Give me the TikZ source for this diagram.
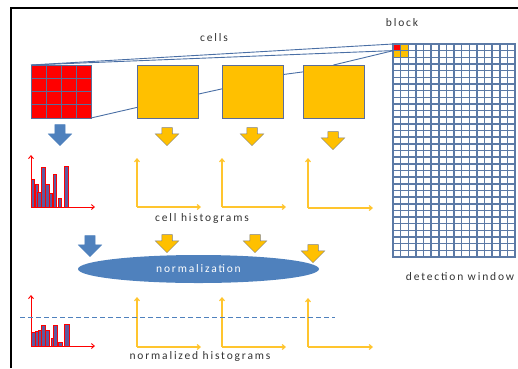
\documentclass[tikz,border=0pt]{standalone}
\usepackage{fontspec}
\setmainfont{Carlito}[LetterSpace=16]
\usetikzlibrary{shapes.arrows,shapes.geometric,arrows.meta,calc}

\definecolor{hogblue}{HTML}{4F81BD}
\definecolor{hogyellow}{HTML}{FFC000}
\definecolor{gridline}{HTML}{5A6D99}
\definecolor{linkline}{HTML}{4A6FA5}
\definecolor{winline}{HTML}{5C7AA6}
\definecolor{axisyellow}{HTML}{FFC52E}
\definecolor{textgray}{HTML}{333333}
\definecolor{barfill}{HTML}{5F5A9E}

\begin{document}
\begin{tikzpicture}[x=1pt, y=-1pt, every node/.style={inner sep=0pt, outer sep=0pt},
    txt/.style={text=textgray, font=\fontsize{11.5}{13}\selectfont},
    cellsq/.style={draw=gridline, line width=0.8pt, fill=hogyellow, minimum width=61, minimum height=53},
    downblue/.style={single arrow, fill=hogblue, draw=hogblue, rotate=-90, inner ysep=5pt, minimum height=21, single arrow head extend=6.5},
    downyellow/.style={single arrow, fill=hogyellow, draw=gray, line width=0.5pt, rotate=-90, inner ysep=5pt, minimum height=18, single arrow head extend=6.5},
    link/.style={draw=linkline, line width=0.9pt},
    raxis/.style={draw=red, line width=0.9pt, -{Straight Barb[length=3pt,width=5pt]}},
    yaxis/.style={draw=axisyellow, line width=1.2pt, -{Straight Barb[length=3pt,width=5pt]}},
    bar/.style={fill=barfill, draw=red, line width=0.8pt}]
    \useasboundingbox (0,0) rectangle (518,368);

    % frame
    \draw[line width=2pt] (11,368) -- (11,8) -- (518,8);

    % cells
    \node[draw=gridline, line width=0.8pt, fill=red, minimum width=60, minimum height=53] (cellgrid) at (61,91.5) {};
    \foreach \i in {1,2,3} {
        \draw[gridline, line width=0.8pt] (31+15*\i,65) -- (31+15*\i,118);
        \draw[gridline, line width=0.8pt] (31,65+13.25*\i) -- (91,65+13.25*\i);
    }
    \node[cellsq] (cellB) at (167.5,91.5) {};
    \node[cellsq] (cellC) at (252.5,91.5) {};
    \node[cellsq] (cellD) at (333.5,91.5) {};
    \node[txt] (cellslabel) at (214,38) {cells};

    % detection window
    \node[draw=winline, line width=1.6pt, fill=white, minimum width=122, minimum height=213] (window) at (454,150.5) {};
    \foreach \i in {1,...,15}
        \draw[winline, line width=1.5pt] (393+7.625*\i,44) -- (393+7.625*\i,257);
    \foreach \j in {1,...,31}
        \draw[winline, line width=1.5pt] (393,44+6.656*\j) -- (515,44+6.656*\j);
    \node[draw=winline, line width=0.8pt, fill=red, minimum width=7.6, minimum height=6.6] (blockA) at (396.8,47.3) {};
    \node[draw=winline, line width=0.8pt, fill=hogyellow, minimum width=7.6, minimum height=6.6] (blockB) at (404.4,47.3) {};
    \node[draw=winline, line width=0.8pt, fill=hogyellow, minimum width=7.6, minimum height=6.6] (blockC) at (396.8,54) {};
    \node[draw=winline, line width=0.8pt, fill=hogyellow, minimum width=7.6, minimum height=6.6] (blockD) at (404.4,54) {};
    \node[txt] (blocklabel) at (402,23) {block};
    \node[txt] (windowlabel) at (460,277) {detection window};

    % links cells -> block
    \draw[link] (cellgrid.north west) -- (blockA.north west);
    \draw[link] (cellgrid.north west) -- (blockA.south west);
    \draw[link] (cellgrid.south east) -- ($(cellB.south west)!0.2!(cellB.north west)$);
    \draw[link] ($(cellB.south east)!0.45!(cellB.north east)$) -- ($(cellC.south west)!0.55!(cellC.north west)$);
    \draw[link] ($(cellC.south east)!0.82!(cellC.north east)$) -- ($(cellD.south west)!0.87!(cellD.north west)$);
    \draw[link] (cellD.north) -- (blockC.north west);

    % arrows row 1
    \node[downblue] (dA) at (60,132.5) {};
    \node[downyellow] (dB) at (167,134) {};
    \node[downyellow] (dC) at (252,134) {};
    \node[downyellow] (dD) at (333,138) {};

    % cell histograms
    \coordinate (hA) at (31,207);
    \foreach \l/\r/\t in {31/34/179, 35/38/184, 37/41/192, 41/45/167, 45/49/184, 49/52/193, 53/56/174, 58/61/198, 64/68/166}
        \filldraw[bar] (\l,207) rectangle (\r,\t);
    \draw[raxis] (hA) -- ++(0,-52);
    \draw[raxis] (hA) -- ++(64,0);
    \coordinate (hB) at (137,207);
    \coordinate (hC) at (222,207);
    \coordinate (hD) at (308,208);
    \draw[yaxis] (hB) -- ++(0,-49);
    \draw[yaxis] (hB) -- ++(64,0);
    \draw[yaxis] (hC) -- ++(0,-49);
    \draw[yaxis] (hC) -- ++(64,0);
    \draw[yaxis] (hD) -- ++(0,-50);
    \draw[yaxis] (hD) -- ++(65,0);
    \node[txt] (histlabel) at (202,218) {cell histograms};

    % arrows row 2
    \node[downblue] (dE) at (90,243.5) {};
    \node[downyellow] (dF) at (167,241) {};
    \node[downyellow] (dG) at (255,241) {};
    \node[downyellow] (dH) at (313,251) {};

    % normalization
    \node[ellipse, fill=hogblue, minimum width=241, minimum height=28, text=white, font=\fontsize{11.5}{13}\selectfont] (norm) at (198.5,269) {normalization};

    % normalized histograms
    \coordinate (hE) at (31,346);
    \foreach \l/\r/\t in {31/35/332, 35/39/331, 38/42/330, 41/45/325, 45/49/330, 51/53/338, 53/57/325, 58/62/342, 64/69/324}
        \filldraw[bar] (\l,346) rectangle (\r,\t);
    \draw[raxis] (hE) -- ++(0,-51);
    \draw[raxis] (hE) -- ++(64,0);
    \coordinate (hF) at (137,347);
    \coordinate (hG) at (222,347);
    \coordinate (hH) at (308,347);
    \draw[yaxis] (hF) -- ++(0,-50);
    \draw[yaxis] (hF) -- ++(64,0);
    \draw[yaxis] (hG) -- ++(0,-50);
    \draw[yaxis] (hG) -- ++(64,0);
    \draw[yaxis] (hH) -- ++(0,-49);
    \draw[yaxis] (hH) -- ++(65,0);
    \coordinate (dashL) at (20,317);
    \coordinate (dashR) at (335,317);
    \draw[hogblue, line width=1pt, dash pattern=on 5pt off 3pt] (dashL) -- (dashR);
    \node[txt] (normlabel) at (200,356) {normalized histograms};
\end{tikzpicture}
\end{document}
